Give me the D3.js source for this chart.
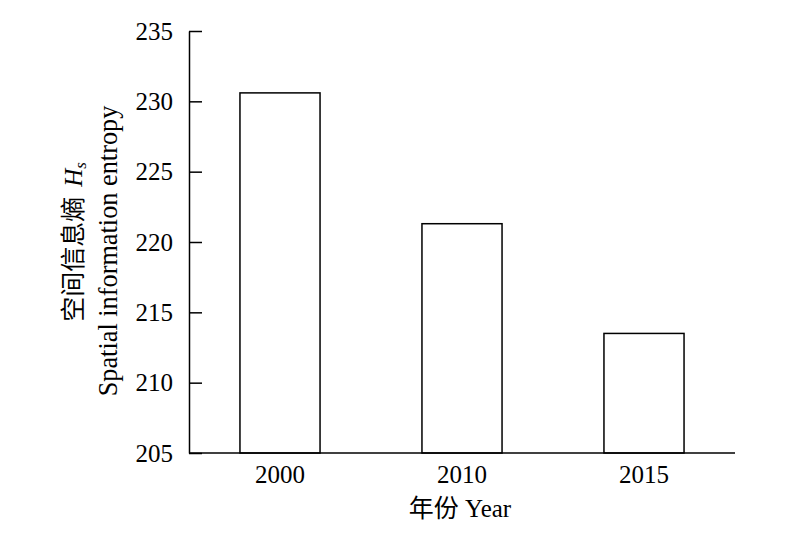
<!DOCTYPE html>
<html><head><meta charset="utf-8">
<script src="https://cdn.jsdelivr.net/npm/d3@7"></script>
<style>body{margin:0;background:#fff}svg{display:block}</style>
</head><body>
<svg id="c" width="800" height="545"></svg>
<script>
const categories = ["2000", "2010", "2015"];
const values = [230.6, 221.3, 213.5];
const yTicks = [205, 210, 215, 220, 225, 230, 235];

const svg = d3.select("#c");
const L = 189, R = 735, T = 31, B = 453;
const serif = "'Liberation Serif','Times New Roman',serif";
const cjk = "'Noto Sans CJK SC',sans-serif";
const x = d3.scaleBand().domain(categories).range([L, R]).paddingInner(0.56).paddingOuter(0.28);
const y = d3.scaleLinear().domain([205, 235]).range([B, T]);

svg.selectAll("rect.bar").data(values).enter().append("rect")
  .attr("x", (d, i) => x(categories[i])).attr("width", x.bandwidth())
  .attr("y", d => y(d)).attr("height", d => B - y(d))
  .attr("fill", "#fff").attr("stroke", "#000").attr("stroke-width", 1.5);

const ya = svg.append("g").attr("transform", `translate(${L},0)`)
  .call(d3.axisLeft(y).tickValues(yTicks).tickSizeInner(-13).tickSizeOuter(0).tickPadding(16));
ya.select(".domain").attr("stroke-width", 1.5);
ya.selectAll(".tick line").attr("stroke-width", 1.5);
ya.selectAll("text").attr("font-family", serif).attr("font-size", 25).attr("fill", "#000");

const xa = svg.append("g").attr("transform", `translate(0,${B})`)
  .call(d3.axisBottom(x).tickSize(0).tickPadding(12));
xa.select(".domain").attr("stroke-width", 1.5).attr("d", `M${L},0H${R}`);
xa.selectAll("text").attr("font-family", serif).attr("font-size", 25).attr("fill", "#000");

svg.append("text").attr("x", 460).attr("y", 517).attr("text-anchor", "middle")
  .attr("font-size", 25).attr("fill", "#000")
  .html(`<tspan font-family="${cjk}">年份</tspan><tspan font-family="${serif}"> Year</tspan>`);

const yl1 = svg.append("g").attr("transform", `translate(0,242) rotate(-90)`);
const t1 = yl1.append("text").attr("x", 0).attr("y", 82).attr("text-anchor", "middle").attr("font-size", 25).attr("fill", "#000");
t1.append("tspan").attr("font-family", cjk).text("空间信息熵");
t1.append("tspan").attr("font-family", serif).attr("font-style", "italic").attr("dx", 10).text("H");
t1.append("tspan").attr("font-family", serif).attr("font-style", "italic").attr("font-size", 17).attr("dy", 4).text("s");
const yl2 = svg.append("g").attr("transform", `translate(0,251) rotate(-90)`);
yl2.append("text").attr("x", 0).attr("y", 117).attr("text-anchor", "middle").attr("font-size", 26.3)
  .attr("font-family", serif).attr("fill", "#000").text("Spatial information entropy");
</script>
</body></html>
